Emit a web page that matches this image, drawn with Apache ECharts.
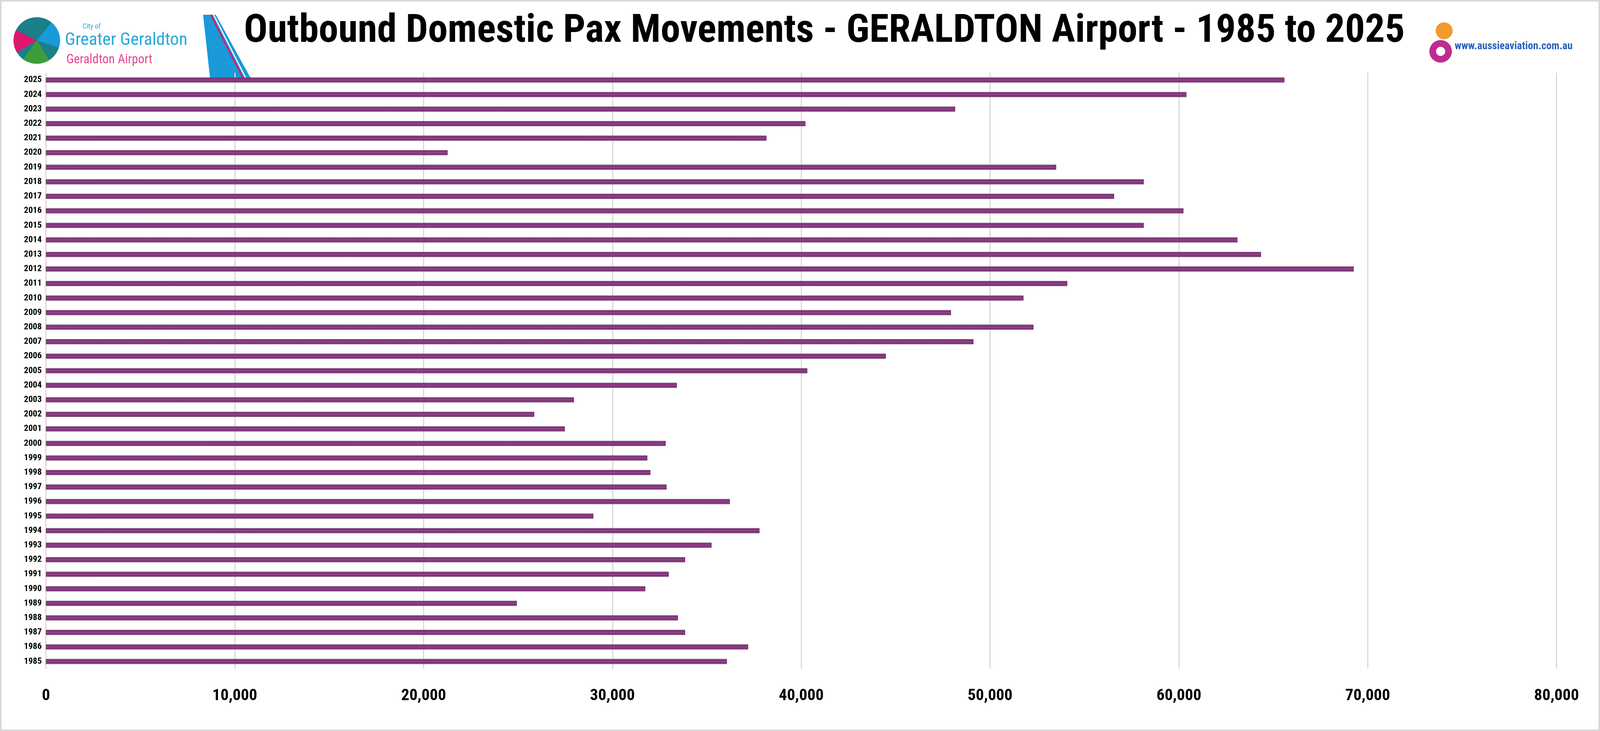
<!DOCTYPE html>
<html>
<head>
<meta charset="utf-8">
<script src="https://cdn.jsdelivr.net/npm/echarts@6/dist/echarts.min.js"></script>
<style>
html,body{margin:0;padding:0;background:#fff;overflow:hidden;}
#chart{width:100vw;height:100vh;box-sizing:border-box;border:4px solid #d9d9d9;}
</style>
</head>
<body>
<div id="chart"></div>
<script>
// years bottom -> top
var years = [];
for (var y = 1985; y <= 2025; y++) years.push(String(y));

// outbound domestic pax, 1985..2025
var paxValues = [
  36060, 37190, 33850, 33470, 24940, 31740, 32980, 33850, 35250, 37790,
  28990, 36220, 32870, 32010, 31850, 32820, 27480, 25860, 27960, 33410,
  40320, 44480, 49120, 52300, 47930, 51770, 54090, 69260, 64350, 63100,
  58140, 60240, 56570, 58140, 53500, 21270, 38160, 40220, 48150, 60400,
  65590
];

var xTicks = [0, 10000, 20000, 30000, 40000, 50000, 60000, 70000, 80000];

var dom = document.getElementById("chart");
var myChart = echarts.init(dom);
var W = dom.clientWidth, H = dom.clientHeight;
var sx = W / 4533, sy = H / 1871, k = Math.min(sx, sy);
function px(v) { return v * sx; }
var FONT = "Liberation Sans Narrow, Arial Narrow, Roboto Condensed, Roboto, sans-serif";

// logo helpers: anchor x scaled by sx, size by k
function lx(ax, d) { return px(ax) + d * k; }
function ly(v) { return v * sy; }

var option = {
  backgroundColor: "#fff",
  animation: false,
  title: {
    text: "Outbound Domestic Pax Movements - GERALDTON Airport - 1985 to 2025",
    left: px(2330),
    textAlign: "center",
    top: 22 * sy,
    textStyle: { fontFamily: FONT, fontWeight: "bold", fontSize: 112 * k, color: "#000" }
  },
  graphic: [
    // Geraldton logo (simplified)
    { type: "circle", shape: { cx: lx(40, 60), cy: ly(100), r: 66 * k }, style: { fill: "#1a7f86" } },
    { type: "sector", shape: { cx: lx(40, 60), cy: ly(100), r: 66 * k, r0: 0, startAngle: 1.0, endAngle: 2.2 }, style: { fill: "#3f9c3a" } },
    { type: "sector", shape: { cx: lx(40, 60), cy: ly(100), r: 66 * k, r0: 0, startAngle: 2.6, endAngle: 3.6 }, style: { fill: "#e0156e" } },
    { type: "sector", shape: { cx: lx(40, 60), cy: ly(100), r: 66 * k, r0: 0, startAngle: 5.4, endAngle: 6.6 }, style: { fill: "#1a9ad8" } },
    { type: "text", x: lx(40, 190), y: ly(56), style: { text: "City of", fill: "#2aa6dd", fontSize: 20 * k, fontFamily: FONT } },
    { type: "text", x: lx(40, 140), y: ly(78), style: { text: "Greater Geraldton", fill: "#2aa6dd", fontSize: 50 * k, fontFamily: FONT } },
    { type: "text", x: lx(40, 144), y: ly(134), style: { text: "Geraldton Airport", fill: "#e6468c", fontSize: 36 * k, fontFamily: FONT } },
    { type: "polygon", shape: { points: [[lx(572, 0), ly(34)], [lx(572, 36), ly(34)], [lx(572, 136), ly(198)], [lx(572, 20), ly(198)]] }, style: { fill: "#1a9ad8" } },
    { type: "polyline", shape: { points: [[lx(572, 22), ly(34)], [lx(572, 114), ly(198)]] }, style: { stroke: "#e0156e", lineWidth: 4 } },
    { type: "polyline", shape: { points: [[lx(572, 30), ly(34)], [lx(572, 122), ly(198)]] }, style: { stroke: "#fff", lineWidth: 3 } },
    // aussieaviation logo (simplified)
    { type: "circle", shape: { cx: lx(4085, 10), cy: ly(75), r: 24 * k }, style: { fill: "#f29a2e" } },
    { type: "circle", shape: { cx: lx(4085, 0), cy: ly(128), r: 32 * k }, style: { fill: "#c02a8f" } },
    { type: "circle", shape: { cx: lx(4085, 0), cy: ly(128), r: 13 * k }, style: { fill: "#fff" } },
    { type: "text", x: lx(4085, 40), y: ly(102), style: { text: "www.aussieaviation.com.au", fill: "#2a62b8", fontSize: 30 * k, fontWeight: "bold", fontFamily: FONT } }
  ],
  grid: {
    left: px(126),
    right: px(4533 - 4414),
    top: 183 * sy,
    bottom: (1871 - 1715) * sy,
    containLabel: false
  },
  xAxis: {
    type: "value",
    min: 0,
    max: 80000,
    interval: 10000,
    axisLine: { show: false },
    axisTick: { show: false },
    splitLine: { show: true, lineStyle: { color: "#d9d9d9", width: 3 } },
    axisLabel: {
      margin: 50 * sy,
      color: "#000",
      fontWeight: "bold",
      fontSize: 46 * k,
      fontFamily: FONT,
      formatter: function (v) {
        return xTicks.indexOf(v) >= 0 ? v.toLocaleString("en-US") : "";
      }
    }
  },
  yAxis: {
    type: "category",
    data: years,
    axisLine: { show: false },
    axisTick: { show: false },
    axisLabel: {
      interval: 0,
      margin: 12 * k,
      color: "#000",
      fontWeight: "bold",
      fontSize: 25 * k,
      fontFamily: FONT
    }
  },
  series: [
    {
      type: "bar",
      data: paxValues,
      barWidth: 13 * sy,
      itemStyle: {
        borderColor: "#4a1848",
        borderWidth: 1,
        color: new echarts.graphic.LinearGradient(0, 0, 0, 1, [
          { offset: 0, color: "#c58fc2" },
          { offset: 0.25, color: "#6e2468" },
          { offset: 0.5, color: "#a04a9a" },
          { offset: 0.75, color: "#6e2468" },
          { offset: 1, color: "#c58fc2" }
        ])
      }
    }
  ]
};

myChart.setOption(option);
</script>
</body>
</html>
